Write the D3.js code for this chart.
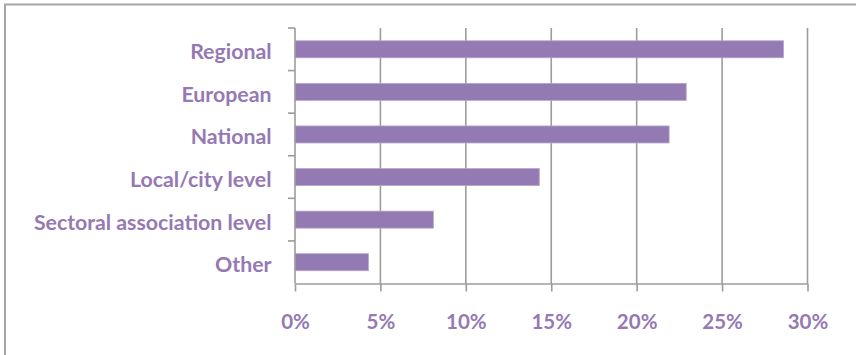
<!DOCTYPE html>
<html>
<head>
<meta charset="utf-8">
<script src="https://cdn.jsdelivr.net/npm/d3@7"></script>
<style>
  html, body { margin: 0; padding: 0; background: #fff; }
  svg { display: block; }
  .lbl { font-family: Lato, "Open Sans", sans-serif; font-weight: 700; fill: #9579b3; }
</style>
</head>
<body>
<svg id="chart" width="856" height="355"></svg>
<script>
// Share of responses by governance level
const categories = ["Regional", "European", "National", "Local/city level", "Sectoral association level", "Other"];
const values = [0.286, 0.229, 0.219, 0.143, 0.081, 0.043];
const tickValues = [0, 0.05, 0.10, 0.15, 0.20, 0.25, 0.30];

const svg = d3.select("#chart");
const W = 856, H = 355;
const margin = { left: 295, right: 48.5, top: 28, bottom: 71.5 };
const innerW = W - margin.left - margin.right;
const innerH = H - margin.top - margin.bottom;

const axisColor = "#9c9c9c";
const barColor = "#937ab2";

// outer frame (left and top edges visible within the view)
svg.append("rect")
  .attr("x", 5).attr("y", 4.5)
  .attr("width", 1000).attr("height", 1000)
  .attr("fill", "none").attr("stroke", "#a6a6a6").attr("stroke-width", 2);

const g = svg.append("g").attr("transform", `translate(${margin.left},${margin.top})`);

const x = d3.scaleLinear().domain([0, 0.30]).range([0, innerW]);
const y = d3.scaleBand().domain(categories).range([0, innerH]).paddingInner(0.6).paddingOuter(0.3);
const yTicks = d3.scaleBand().domain(categories).range([0, innerH]);

// vertical gridlines
g.selectAll(".grid").data(tickValues.slice(1)).join("line")
  .attr("x1", d => x(d)).attr("x2", d => x(d))
  .attr("y1", 0).attr("y2", innerH)
  .attr("stroke", axisColor).attr("stroke-width", 1.6);

// bars
g.selectAll(".bar").data(categories).join("rect")
  .attr("x", 0)
  .attr("y", d => y(d))
  .attr("width", (d, i) => x(values[i]))
  .attr("height", y.bandwidth())
  .attr("fill", barColor)
  .attr("stroke", "#b7a6cc").attr("stroke-width", 0.8);

// x axis
const xAxis = g.append("g").attr("transform", `translate(0,${innerH})`)
  .call(d3.axisBottom(x).tickValues(tickValues).tickFormat(d3.format(".0%")).tickSize(8).tickSizeOuter(0));
xAxis.select(".domain").attr("stroke", axisColor).attr("stroke-width", 1.6);
xAxis.selectAll(".tick line").attr("stroke", axisColor).attr("stroke-width", 1.6);
xAxis.selectAll(".tick text")
  .attr("class", "lbl").attr("font-size", 20.5).attr("dy", 0).attr("y", 45)
  .style("font-family", "Lato, 'Open Sans', sans-serif").style("font-weight", 700).attr("fill", "#9579b3");

// y axis: category boundary ticks
const yAxisG = g.append("g");
yAxisG.append("line")
  .attr("x1", 0).attr("x2", 0).attr("y1", 0).attr("y2", innerH)
  .attr("stroke", axisColor).attr("stroke-width", 1.6);
yAxisG.selectAll(".ytick").data(categories).join("line")
  .attr("x1", -7).attr("x2", 0)
  .attr("y1", d => yTicks(d)).attr("y2", d => yTicks(d))
  .attr("stroke", axisColor).attr("stroke-width", 1.6);

// category labels
g.selectAll(".cat").data(categories).join("text")
  .attr("class", "lbl")
  .attr("x", -23.5)
  .attr("y", d => yTicks(d) + yTicks.bandwidth() / 2 + 10)
  .attr("text-anchor", "end")
  .attr("font-size", 21.3)
  .text(d => d);
</script>
</body>
</html>
